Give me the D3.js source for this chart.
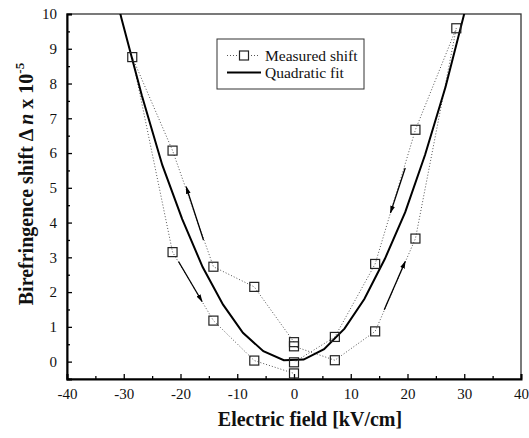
<!DOCTYPE html>
<html>
<head>
<meta charset="utf-8">
<script src="https://cdn.jsdelivr.net/npm/d3@7.9.0/dist/d3.min.js"></script>
<style>
  body { margin: 0; background: #fff; }
</style>
</head>
<body>
<div id="chart"></div>
<script>
const serif = 'Liberation Serif';

// Measured shift, field going right then back (x in kV/cm, y in 1e-5)
const rightLoopX = [0, 7.2, 14.3, 21.4, 28.6, 21.4, 14.3, 7.2, 0];
const rightLoopY = [0.44, 0.04, 0.87, 3.54, 9.59, 6.67, 2.81, 0.71, -0.02];
// Measured shift, field going left then back
const leftLoopX = [0, -7.0, -14.2, -21.4, -28.5, -21.4, -14.2, -7.0, 0];
const leftLoopY = [0.56, 2.15, 2.73, 6.07, 8.76, 3.15, 1.18, 0.03, -0.34];

// Quadratic fit, as plotted
const fitX = [-33.9, -30.4, -26.8, -23.2, -19.7, -16.1, -12.5, -9.0, -5.4, -1.8,
              1.7, 5.3, 8.9, 12.4, 16.0, 19.6, 23.1, 26.7, 30.3, 33.8];
const fitY = [12.2, 9.87, 7.65, 5.65, 4.1, 2.72, 1.64, 0.83, 0.30, 0.04,
              0.06, 0.36, 0.95, 1.80, 2.95, 4.3, 5.95, 7.9, 10.2, 12.7];

// direction arrows: [x0, y0, x1, y1] head at x1,y1
const arrows = [
  [-15.95, 3.5, -19.0, 5.03],
  [-20.35, 2.88, -16.2, 1.73],
  [19.6, 5.57, 17.0, 4.28],
  [15.9, 1.49, 19.6, 2.88]
];

const xTicks = [-40, -30, -20, -10, 0, 10, 20, 30, 40];
const yTicks = [0, 1, 2, 3, 4, 5, 6, 7, 8, 9, 10];

const width = 529, height = 438;
const plot = { left: 67, right: 521, top: 14, bottom: 379 };

const svg = d3.select('#chart').append('svg')
  .attr('width', width).attr('height', height)
  .attr('font-family', serif);

const x = d3.scaleLinear().domain([-40, 40]).range([plot.left, plot.right]);
const y = d3.scaleLinear().domain([-0.5, 10]).range([plot.bottom, plot.top]);

svg.append('defs').append('clipPath').attr('id', 'clip')
  .append('rect')
  .attr('x', plot.left).attr('y', plot.top)
  .attr('width', plot.right - plot.left).attr('height', plot.bottom - plot.top);

svg.append('marker').attr('id', 'head')
  .attr('viewBox', '0 0 10 10').attr('refX', 9).attr('refY', 5)
  .attr('markerWidth', 6).attr('markerHeight', 6)
  .attr('orient', 'auto')
  .append('path').attr('d', 'M0,2 L10,5 L0,8 Z').attr('fill', '#000');

// frame
svg.append('rect')
  .attr('x', plot.left).attr('y', plot.top)
  .attr('width', plot.right - plot.left).attr('height', plot.bottom - plot.top)
  .attr('fill', 'none').attr('stroke', '#333').attr('stroke-width', 1.3);

// bottom axis, ticks pointing inward
const xMinor = svg.append('g').attr('transform', `translate(0,${plot.bottom})`)
  .call(d3.axisBottom(x).tickValues(d3.range(-35, 40, 10)).tickSize(-3).tickFormat(''));
xMinor.select('.domain').remove();
const xMajor = svg.append('g').attr('transform', `translate(0,${plot.bottom})`)
  .call(d3.axisBottom(x).tickValues(xTicks).tickSize(-5).tickPadding(9).tickFormat(d => String(d)));
xMajor.select('.domain').attr('stroke-width', 2);

// left axis
const yMinor = svg.append('g').attr('transform', `translate(${plot.left},0)`)
  .call(d3.axisLeft(y).tickValues(d3.range(-0.5, 10, 1)).tickSize(-3).tickFormat(''));
yMinor.select('.domain').remove();
const yMajor = svg.append('g').attr('transform', `translate(${plot.left},0)`)
  .call(d3.axisLeft(y).tickValues(yTicks).tickSize(-5).tickPadding(10).tickFormat(d => String(d)));
yMajor.select('.domain').attr('stroke-width', 2);

// axis groups carry font-family="sans-serif"; switch them to serif
svg.selectAll('g').attr('font-family', serif);
svg.selectAll('.tick line').attr('stroke-width', 1.3);
svg.selectAll('.tick text')
  .attr('font-size', 15).attr('font-family', serif).attr('fill', '#111');

const body = svg.append('g').attr('clip-path', 'url(#clip)');
const line = d3.line().x(d => x(d[0])).y(d => y(d[1]));

const loops = [d3.zip(rightLoopX, rightLoopY), d3.zip(leftLoopX, leftLoopY)];

body.selectAll('path.meas').data(loops).join('path')
  .attr('class', 'meas')
  .attr('d', line)
  .attr('fill', 'none').attr('stroke', '#555')
  .attr('stroke-width', 1).attr('stroke-dasharray', '1,2');

body.append('path')
  .datum(d3.zip(fitX, fitY))
  .attr('d', line)
  .attr('fill', 'none').attr('stroke', '#000').attr('stroke-width', 2);

body.selectAll('line.arrow').data(arrows).join('line')
  .attr('class', 'arrow')
  .attr('x1', d => x(d[0])).attr('y1', d => y(d[1]))
  .attr('x2', d => x(d[2])).attr('y2', d => y(d[3]))
  .attr('stroke', '#000').attr('stroke-width', 1.3)
  .attr('marker-end', 'url(#head)');

const s = 9;
body.selectAll('rect.pt').data(loops.flat()).join('rect')
  .attr('class', 'pt')
  .attr('x', d => x(d[0]) - s / 2).attr('y', d => y(d[1]) - s / 2)
  .attr('width', s).attr('height', s)
  .attr('fill', 'none').attr('stroke', '#222').attr('stroke-width', 1.2);

// legend
const lg = svg.append('g').attr('font-family', serif);
lg.append('rect').attr('x', 217).attr('y', 39).attr('width', 147).attr('height', 50)
  .attr('fill', '#fff').attr('stroke', '#333').attr('stroke-width', 1);
lg.append('line').attr('x1', 227).attr('x2', 260).attr('y1', 55.5).attr('y2', 55.5)
  .attr('stroke', '#555').attr('stroke-dasharray', '1,2');
lg.append('rect').attr('x', 239.5).attr('y', 51).attr('width', 9).attr('height', 9)
  .attr('fill', '#fff').attr('stroke', '#222').attr('stroke-width', 1.2);
lg.append('line').attr('x1', 227).attr('x2', 261).attr('y1', 72.5).attr('y2', 72.5)
  .attr('stroke', '#000').attr('stroke-width', 2);
lg.append('text').attr('x', 265).attr('y', 60.5).attr('font-size', 15.5).attr('fill', '#111')
  .attr('font-family', serif).text('Measured shift');
lg.append('text').attr('x', 265).attr('y', 77.5).attr('font-size', 15.5).attr('fill', '#111')
  .attr('font-family', serif).text('Quadratic fit');

// axis titles
svg.append('text')
  .attr('x', 310).attr('y', 426)
  .attr('text-anchor', 'middle').attr('font-size', 20).attr('font-weight', 'bold')
  .attr('font-family', serif).attr('fill', '#111')
  .text('Electric field [kV/cm]');

const yt = svg.append('text')
  .attr('transform', `translate(33,184) rotate(-90)`)
  .attr('text-anchor', 'middle').attr('font-size', 20).attr('font-weight', 'bold')
  .attr('font-family', serif).attr('fill', '#111');
yt.append('tspan').text('Birefringence shift \u0394 ');
yt.append('tspan').attr('font-style', 'italic').text('n');
yt.append('tspan').text(' x 10');
yt.append('tspan').attr('font-size', 13).attr('dy', -9).text('-5');
</script>
</body>
</html>
